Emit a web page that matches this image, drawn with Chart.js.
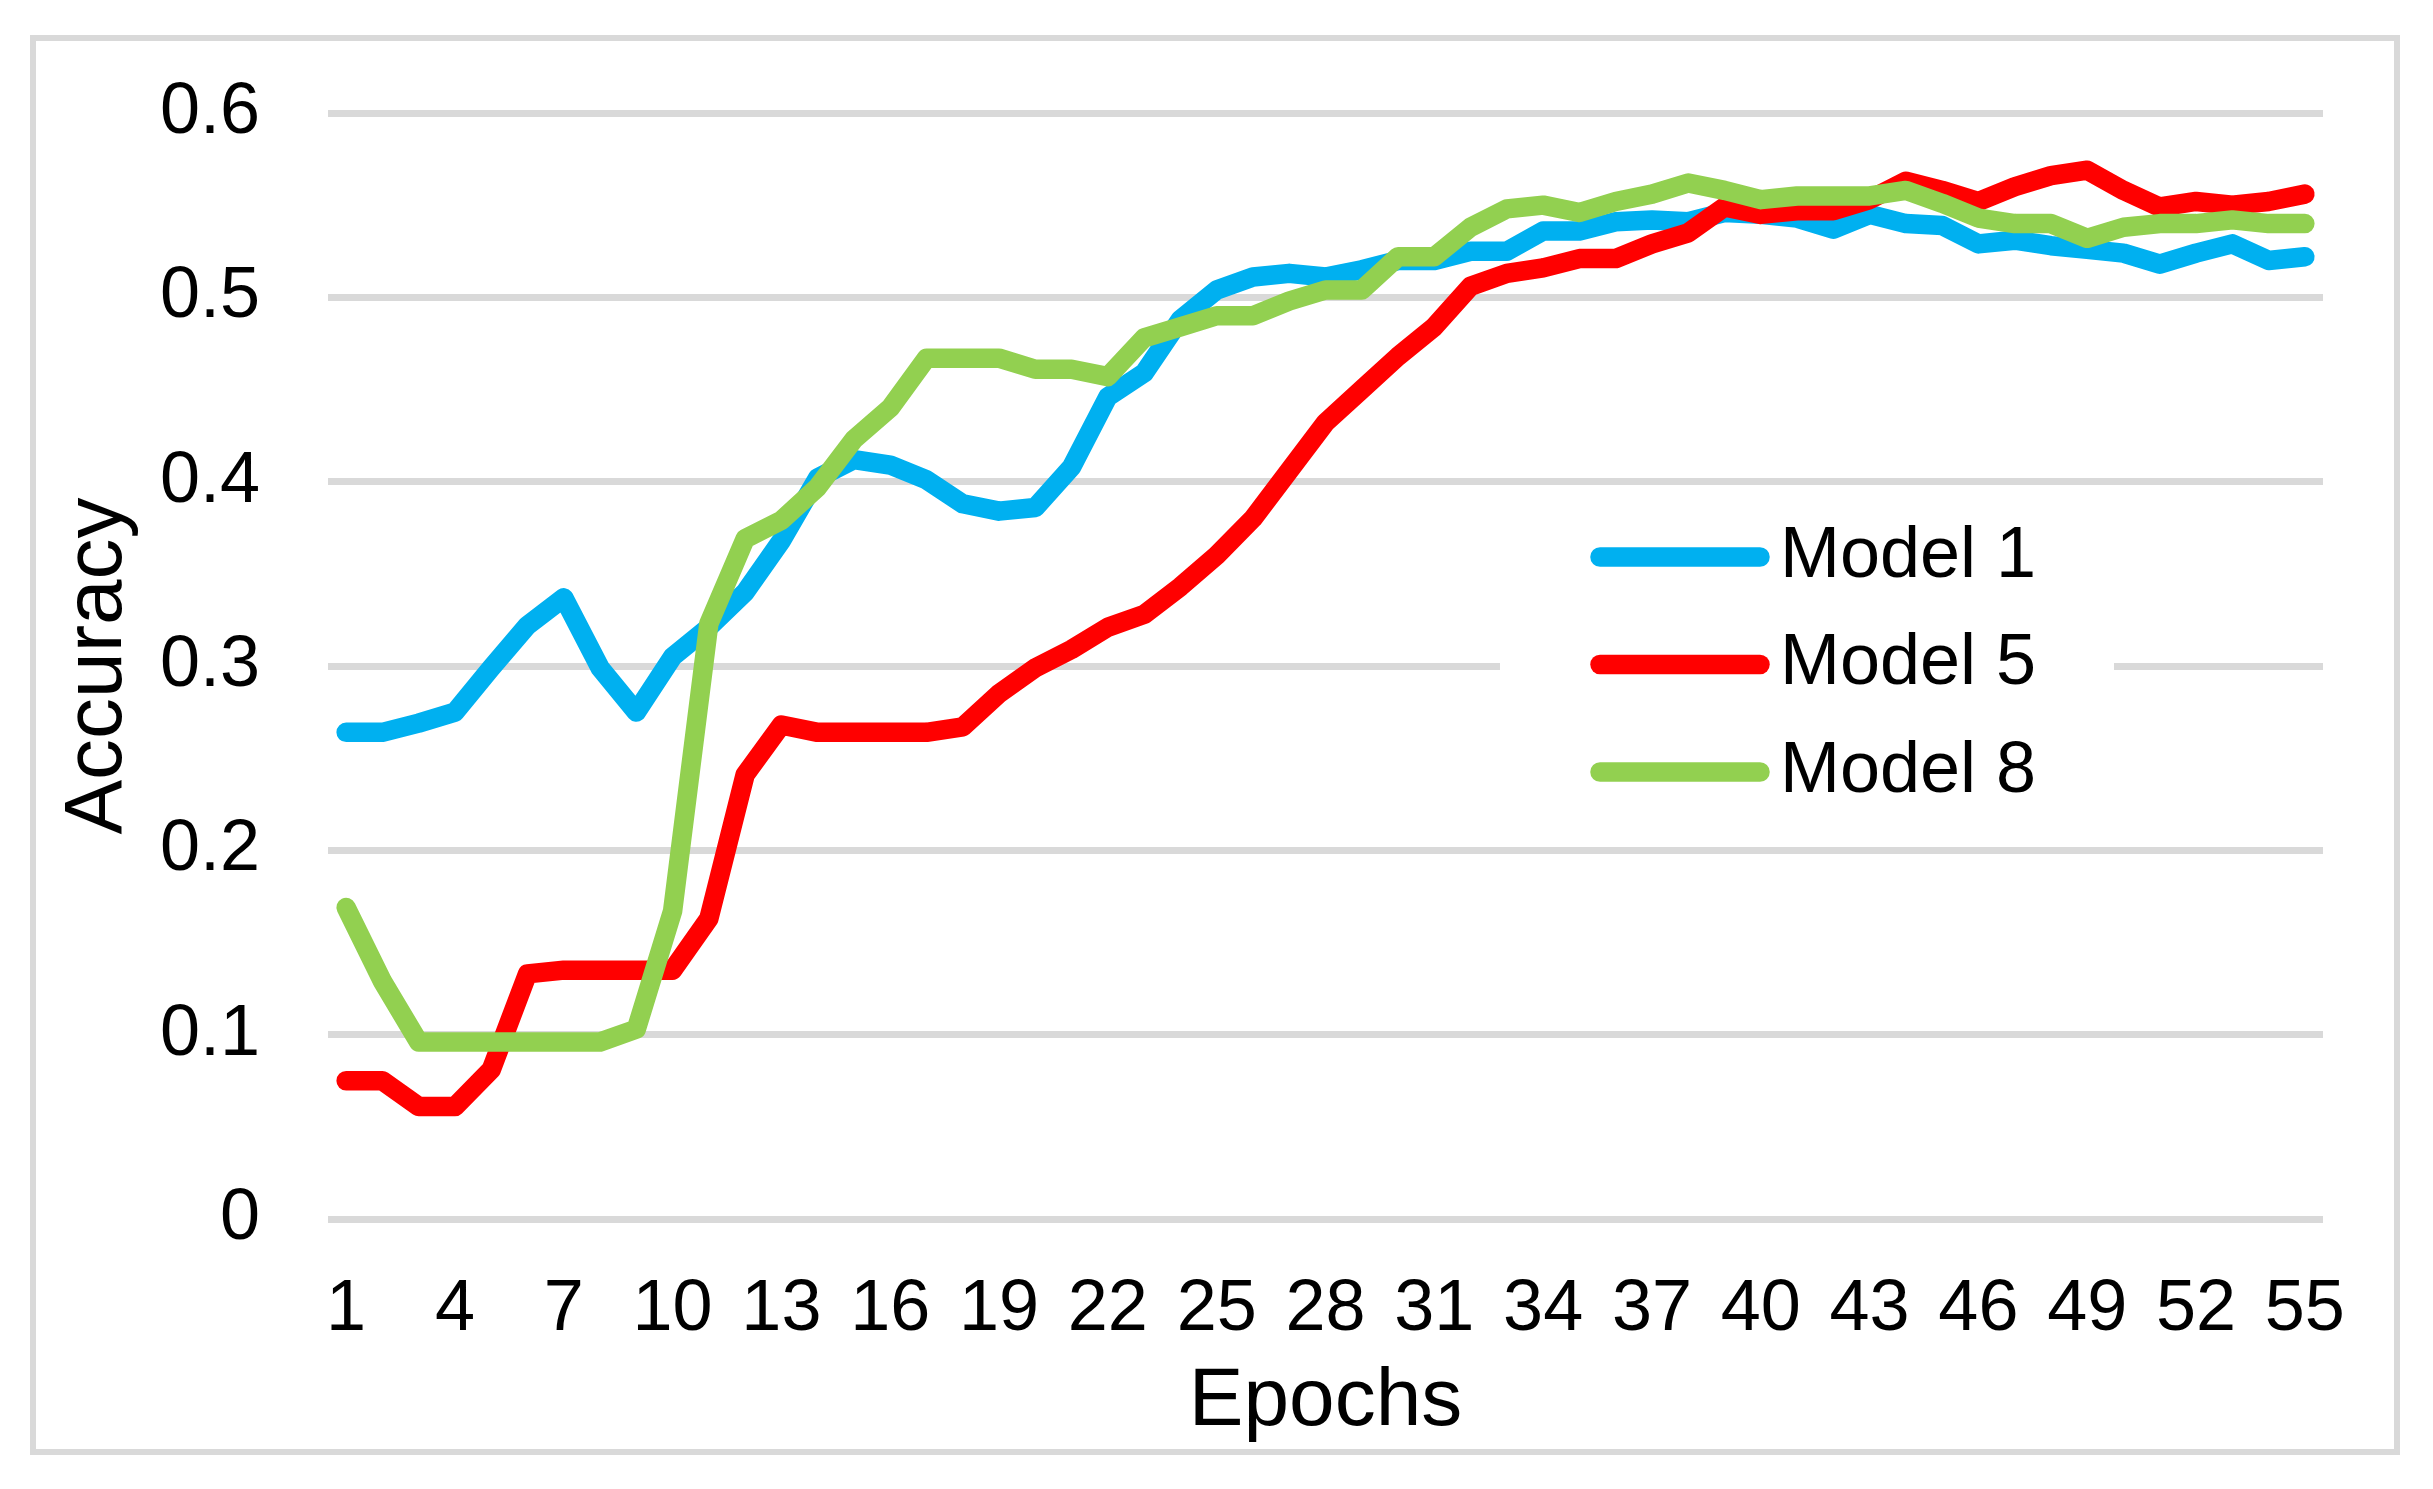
<!DOCTYPE html>
<html>
<head>
<meta charset="utf-8">
<script src="https://cdn.jsdelivr.net/npm/chart.js@4.4.1/dist/chart.umd.min.js"></script>
<style>
  html, body { margin: 0; padding: 0; background: #ffffff; }
  canvas { display: block; }
</style>
</head>
<body>
<canvas id="chart" width="2433" height="1489"></canvas>
<script>
const epochs = [1,2,3,4,5,6,7,8,9,10,11,12,13,14,15,16,17,18,19,20,21,22,23,24,25,26,27,28,29,30,31,32,33,34,35,36,37,38,39,40,41,42,43,44,45,46,47,48,49,50,51,52,53,54,55];
const xTickLabels = [1,4,7,10,13,16,19,22,25,28,31,34,37,40,43,46,49,52,55];
const yTickValues = [0,0.1,0.2,0.3,0.4,0.5,0.6];

const model1 = [0.264,0.264,0.269,0.275,0.299,0.322,0.337,0.299,0.275,0.305,
                0.321,0.340,0.368,0.402,0.412,0.409,0.401,0.388,0.384,0.386,
                0.408,0.446,0.459,0.488,0.504,0.511,0.513,0.511,0.515,0.520,
                0.520,0.525,0.525,0.536,0.536,0.541,0.542,0.541,0.546,0.545,
                0.543,0.537,0.545,0.540,0.539,0.529,0.531,0.528,0.526,0.524,
                0.518,0.524,0.529,0.520,0.522];
const model5 = [0.075,0.075,0.061,0.061,0.081,0.133,0.135,0.135,0.135,0.135,
                0.163,0.241,0.268,0.264,0.264,0.264,0.264,0.267,0.285,0.299,
                0.309,0.321,0.328,0.343,0.360,0.380,0.406,0.432,0.450,0.468,
                0.484,0.506,0.513,0.516,0.521,0.521,0.529,0.535,0.549,0.545,
                0.547,0.547,0.553,0.563,0.558,0.552,0.560,0.566,0.569,0.558,
                0.549,0.552,0.550,0.552,0.556];
const model8 = [0.169,0.129,0.096,0.096,0.096,0.096,0.096,0.096,0.103,0.167,
                0.323,0.369,0.379,0.397,0.423,0.440,0.467,0.467,0.467,0.461,
                0.461,0.457,0.478,0.484,0.490,0.490,0.498,0.504,0.504,0.522,
                0.522,0.538,0.548,0.550,0.546,0.552,0.556,0.562,0.558,0.553,
                0.555,0.555,0.555,0.558,0.551,0.543,0.540,0.540,0.532,0.538,
                0.540,0.540,0.542,0.540,0.540];

const seriesNames = ['Model 1', 'Model 5', 'Model 8'];
const seriesColors = ['#00B0F0', '#FF0000', '#92D050'];
const seriesValues = [model1, model5, model8];

const FONT = "'Liberation Sans', Arial, sans-serif";
Chart.defaults.font.family = FONT;
Chart.defaults.color = '#000000';

const frame = {
  id: 'frame',
  beforeDraw(chart) {
    const ctx = chart.ctx;
    ctx.save();
    ctx.fillStyle = '#ffffff';
    ctx.fillRect(0, 0, chart.width, chart.height);
    ctx.strokeStyle = '#D9D9D9';
    ctx.lineWidth = 6;
    ctx.strokeRect(33, 38, 2364, 1414);
    ctx.restore();
  }
};

const insideLegend = {
  id: 'insideLegend',
  afterDraw(chart) {
    const ctx = chart.ctx;
    const a = chart.chartArea;
    const boxL = a.left + 1172, boxT = a.top + 382;
    ctx.save();
    ctx.fillStyle = '#ffffff';
    ctx.fillRect(boxL, boxT, 614, 345);
    chart.data.datasets.forEach((ds, i) => {
      const y = a.top + 444 + i * 107.5;
      ctx.strokeStyle = ds.borderColor;
      ctx.lineWidth = 19.5;
      ctx.lineCap = 'round';
      ctx.beginPath();
      ctx.moveTo(boxL + 100, y);
      ctx.lineTo(boxL + 260, y);
      ctx.stroke();
      ctx.fillStyle = '#000000';
      ctx.font = '72px ' + FONT;
      ctx.textBaseline = 'middle';
      ctx.textAlign = 'left';
      ctx.fillText(ds.label, boxL + 280, y);
    });
    ctx.restore();
  }
};

const datasets = seriesNames.map((name, i) => ({
  label: name,
  data: seriesValues[i],
  borderColor: seriesColors[i],
  backgroundColor: seriesColors[i],
  borderWidth: 19.5,
  borderCapStyle: 'round',
  borderJoinStyle: 'round',
  pointRadius: 0,
  pointHoverRadius: 0,
  tension: 0,
  fill: false,
  order: seriesNames.length - i
}));

new Chart(document.getElementById('chart'), {
  type: 'line',
  data: { labels: epochs, datasets },
  plugins: [frame, insideLegend],
  options: {
    responsive: false,
    animation: false,
    devicePixelRatio: 1,
    layout: { padding: { left: 36, top: 113, right: 110, bottom: 33 } },
    plugins: {
      legend: { display: false },
      tooltip: { enabled: false },
      title: { display: false }
    },
    scales: {
      x: {
        type: 'category',
        offset: true,
        grid: { display: false, drawTicks: false },
        border: { display: false },
        ticks: {
          autoSkip: false,
          maxRotation: 0,
          minRotation: 0,
          padding: 48,
          color: '#000000',
          font: { size: 72 },
          callback: function (v) {
            const lab = this.getLabelForValue(v);
            return xTickLabels.includes(Number(lab)) ? String(lab) : '';
          }
        },
        title: {
          display: true,
          text: 'Epochs',
          color: '#000000',
          font: { size: 82 },
          padding: { top: 0, bottom: 4 }
        },
        afterFit: s => { s.height = 237; }
      },
      y: {
        min: yTickValues[0],
        max: yTickValues[yTickValues.length - 1],
        grid: { color: '#D9D9D9', lineWidth: 7, drawTicks: false },
        border: { display: false },
        ticks: {
          stepSize: 0.1,
          padding: 68,
          color: '#000000',
          font: { size: 72 },
          callback: v => {
            const t = yTickValues.find(t => Math.abs(t - v) < 1e-9);
            return t === undefined ? '' : String(t);
          }
        },
        title: {
          display: true,
          text: 'Accuracy',
          color: '#000000',
          font: { size: 82 },
          padding: { top: 13, bottom: 0 }
        },
        afterFit: s => { s.width = 292; }
      }
    }
  }
});
</script>
</body>
</html>
